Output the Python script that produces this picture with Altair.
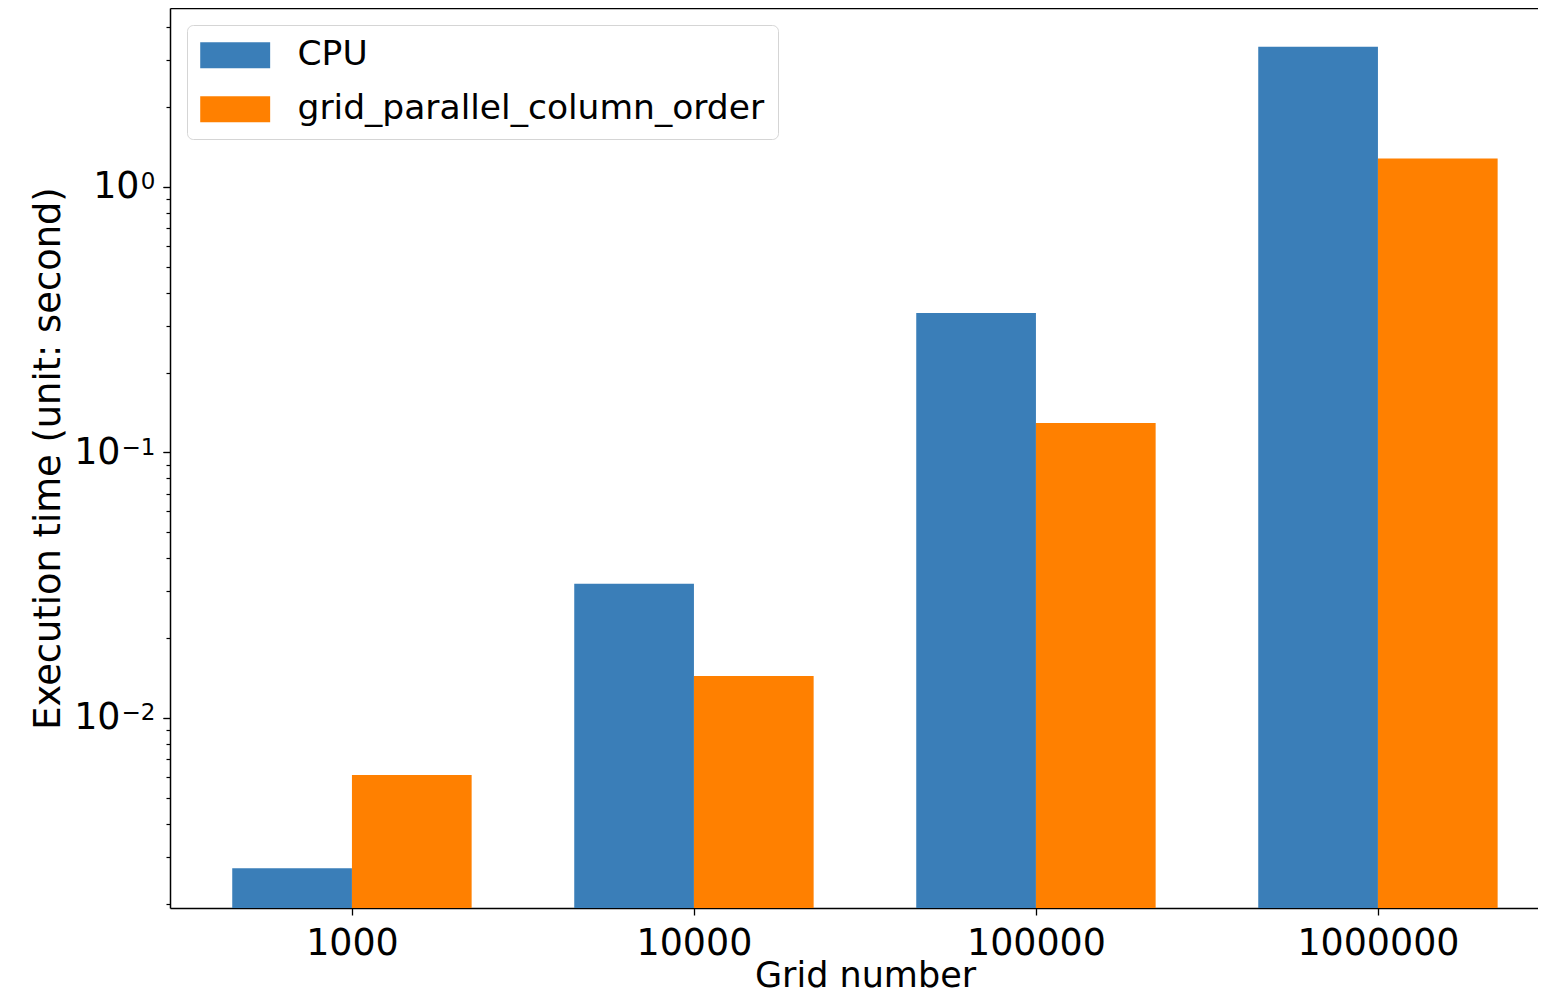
import altair as alt
import pandas as pd

# ---- data ----
categories = ["1000", "10000", "100000", "1000000"]
series_names = ["CPU", "grid_parallel_column_order"]
cpu_times = [0.00272, 0.032, 0.335, 3.37]
gpu_times = [0.0061, 0.0144, 0.129, 1.28]

y_major = [0.01, 0.1, 1]
y_major_base = "10"
y_major_exponents = ["−2", "−1", "0"]
y_minor = [0.002, 0.003, 0.004, 0.005, 0.006, 0.007, 0.008, 0.009,
           0.02, 0.03, 0.04, 0.05, 0.06, 0.07, 0.08, 0.09,
           0.2, 0.3, 0.4, 0.5, 0.6, 0.7, 0.8, 0.9,
           2, 3, 4]
colors = ["#3A7EB8", "#FF8000"]

# ---- layout constants ----
BAR_W = 0.35
Y_DOMAIN = [0.001925, 4.72]
X_DOMAIN = [-0.532, 3.468]
W, H = 1368, 900
FONT = "DejaVu Sans"
TICK_FS = 36.4
EXP_FS = 23
TITLE_FS = 35

rows = []
for i, c in enumerate(categories):
    rows.append({"idx": i, "grid": c, "series": series_names[0], "value": cpu_times[i]})
    rows.append({"idx": i, "grid": c, "series": series_names[1], "value": gpu_times[i]})
df = pd.DataFrame(rows)

label_expr_x = " : ".join(
    [f"datum.value == {i} ? '{c}'" for i, c in enumerate(categories)]
) + " : ''"
label_expr_base = " : ".join(
    [f"datum.value == {v} ? '{y_major_base}'" for v in y_major]
) + " : ''"
label_expr_exp = " : ".join(
    [f"datum.value == {v} ? '{e}'" for v, e in zip(y_major, y_major_exponents)]
) + " : ''"
major_test = "indexof([" + ",".join(str(v) for v in y_major) + "], datum.value) >= 0"

base = alt.Chart(df).transform_calculate(
    x0=f"datum.series == '{series_names[0]}' ? datum.idx - {BAR_W} : datum.idx",
).transform_calculate(
    x1=f"datum.x0 + {BAR_W}"
)

yscale = alt.Scale(type="log", domain=Y_DOMAIN, nice=False)
xscale = alt.Scale(domain=X_DOMAIN, nice=False, zero=False)

bars = base.mark_bar().encode(
    x=alt.X("x0:Q", scale=xscale,
            axis=alt.Axis(values=list(range(len(categories))), labelExpr=label_expr_x,
                          title="Grid number", titleX=695, titleY=78,
                          titleBaseline="alphabetic", titleAlign="center",
                          tickSize=7, tickWidth=1.3, tickColor="black",
                          domainColor="black", domainWidth=1.5,
                          labelPadding=10, labelFontSize=TICK_FS, titleFontSize=TITLE_FS,
                          labelFont=FONT, titleFont=FONT, labelColor="black",
                          titleColor="black", titleFontWeight="normal",
                          grid=False, labelOverlap=False, labelFlush=False)),
    x2="x1:Q",
    y=alt.Y("value:Q", scale=yscale,
            axis=alt.Axis(values=y_major + y_minor, labelExpr=label_expr_base,
                          tickSize={"condition": {"test": major_test, "value": 7}, "value": 4},
                          tickWidth=1.2, tickColor="black",
                          domainColor="black", domainWidth=1.5,
                          labelPadding={"condition": {"test": "datum.value == 1", "value": 24},
                                        "value": 43},
                          labelFontSize=TICK_FS, labelFont=FONT,
                          labelColor="black", labelOverlap=False, labelFlush=False,
                          title="Execution time (unit: second)", titleFontSize=36.8,
                          titleFont=FONT, titleColor="black", titleFontWeight="normal",
                          titleX=-111, titleY=H / 2, titleAngle=270,
                          titleBaseline="alphabetic", titleAlign="center",
                          grid=False)),
    y2=alt.datum(Y_DOMAIN[0]),
    color=alt.Color("series:N",
                    scale=alt.Scale(domain=series_names, range=colors),
                    legend=alt.Legend(orient="none", legendX=17, legendY=17,
                                      title=None, labelFontSize=34.5, labelFont=FONT,
                                      labelColor="black",
                                      symbolType="M-1.31,-1H4.07V1H-1.31Z",
                                      symbolSize=676, symbolStrokeWidth=0,
                                      symbolOpacity=1,
                                      labelOffset=63, rowPadding=19,
                                      padding=13, strokeColor="#d5d5d5",
                                      fillColor="white", cornerRadius=6,
                                      labelLimit=1000)),
)

top_spine = base.mark_bar(opacity=0).encode(
    x=alt.X("x0:Q", scale=xscale,
            axis=alt.Axis(orient="top", labels=False, ticks=False, title=None,
                          domainColor="black", domainWidth=1.5, grid=False)),
    x2="x1:Q",
    y=alt.Y("value:Q", scale=yscale,
            axis=alt.Axis(orient="left", values=y_major, labelExpr=label_expr_exp,
                          tickSize=7, tickWidth=1.2, tickColor="black",
                          domain=False, labelPadding=8, labelFontSize=EXP_FS,
                          labelFont=FONT, labelColor="black", labelAlign="right",
                          labelBaseline="alphabetic", labelOffset=2,
                          labelOverlap=False, labelFlush=False, title=None, grid=False)),
    y2=alt.datum(Y_DOMAIN[0]),
)

chart = alt.layer(bars, top_spine).resolve_axis(x="independent", y="independent").properties(
    width=W, height=H,
    autosize=alt.AutoSizeParams(type="none"),
    padding={"left": 162, "top": 0, "right": 0, "bottom": 86},
).configure_view(stroke=None)

chart.save("out.html", embed_options={"renderer": "svg", "actions": False})
